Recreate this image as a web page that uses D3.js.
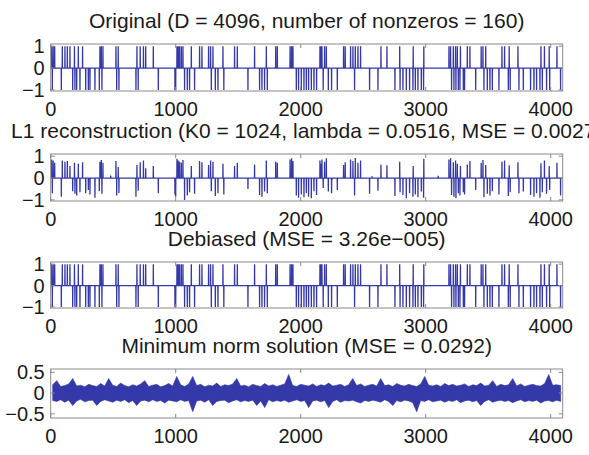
<!DOCTYPE html>
<html>
<head>
<meta charset="utf-8">
<script src="https://cdn.jsdelivr.net/npm/d3@7"></script>
</head>
<body style="margin:0">
<script>
const W = 589, H = 455;
const N = 4096;
const xTicks = [0, 1000, 2000, 3000, 4000];

const posIdx = [8, 20, 32, 93, 114, 133, 154, 190, 221, 255, 394, 405, 418, 522, 540, 690, 716, 742, 760, 821,
  1010, 1020, 1031, 1045, 1058, 1125, 1191, 1210, 1263, 1279, 1298, 1378, 1471, 1493, 1631, 1725, 1800, 1813, 1915, 1927, 1938,
  2154, 2162, 2170, 2191, 2205, 2343, 2356, 2399, 2418, 2437, 2458, 2479, 2642, 2690, 2792, 2900, 2985,
  3186, 3199, 3221, 3239, 3253, 3278, 3333, 3354, 3444, 3458, 3480, 3610, 3631, 3668, 3738, 3922, 3950, 3988, 4050]
const negIdx = [13, 85, 176, 194, 208, 234, 280, 301, 314, 354, 389, 410, 528, 546, 682, 700, 861, 994, 1000,
  1071, 1093, 1111, 1151, 1285, 1317, 1338, 1385, 1578, 1671, 1690, 1711, 1733, 1965, 1983,
  2005, 2026, 2045, 2063, 2085, 2106, 2127, 2180, 2221, 2247, 2293, 2431, 2551, 2618, 2754, 2795, 2818, 2845, 2871, 2898, 2917, 2938, 2965, 2983,
  3207, 3226, 3242, 3261, 3274, 3301, 3311, 3400, 3466, 3493, 3514, 3533, 3586, 3661, 3676, 3746, 3781, 3839, 3866, 3887, 3914, 3933, 3967, 3992, 4079]

// L1 reconstruction magnitudes (shrunk), same order as above
const l1PosMag = [0.85,0.80,0.70,0.80,0.75,0.78,0.55,0.70,0.65,0.72,0.75,0.82,0.70,0.78,0.50,0.60,0.72,0.80,0.45,0.55,
  0.88,0.80,0.75,0.70,0.82,0.55,0.78,0.72,0.60,0.80,0.74,0.65,0.55,0.70,0.62,0.80,0.75,0.70,0.85,0.90,0.78,
  0.80,0.65,0.85,0.75,0.90,0.60,0.72,0.85,0.78,0.92,0.70,0.80,0.62,0.58,0.75,0.55,0.88,
  0.85,0.90,0.72,0.80,0.65,0.55,0.62,0.78,0.70,0.82,0.60,0.75,0.80,0.58,0.72,0.68,0.80,0.55,0.70]
const l1NegMag = [0.70,0.85,0.60,0.72,0.80,0.65,0.70,0.55,0.75,0.90,0.60,0.72,0.80,0.68,0.85,0.58,0.70,0.75,0.85,
  1.00,0.80,0.65,0.72,0.60,0.82,0.70,0.75,0.50,0.78,0.85,0.62,0.70,0.80,0.90,
  0.75,0.88,0.70,0.85,0.92,0.60,0.78,0.45,0.62,0.70,0.55,0.80,0.72,0.58,0.82,0.65,0.78,0.92,0.70,0.85,0.75,0.88,0.62,0.90,
  0.78,0.85,0.92,0.70,0.80,0.65,0.75,0.55,0.88,0.72,0.80,0.60,0.75,0.82,0.65,0.70,0.62,0.78,0.85,0.70,0.90,0.65,0.72,0.55,0.80]
const l1ExtraIdx = [480, 2250, 2570, 3100]
const l1ExtraVal = [0.12, -0.10, 0.08, 0.10]

// minimum norm solution: upper / lower envelope per 32-sample bin
const mnHi = [0.20,0.30,0.16,0.18,0.22,0.35,0.17,0.19,0.15,0.21,0.18,0.16,0.23,0.17,0.35,0.19,
  0.16,0.24,0.18,0.15,0.20,0.17,0.22,0.30,0.16,0.19,0.21,0.15,0.18,0.23,0.17,0.40,
  0.20,0.16,0.22,0.40,0.18,0.21,0.15,0.19,0.17,0.24,0.16,0.20,0.18,0.22,0.35,0.17,
  0.19,0.15,0.21,0.18,0.16,0.23,0.17,0.20,0.16,0.19,0.22,0.45,0.18,0.16,0.21,0.19,
  0.17,0.22,0.16,0.20,0.18,0.24,0.17,0.19,0.21,0.16,0.20,0.35,0.18,0.22,0.16,0.19,
  0.21,0.17,0.35,0.18,0.20,0.16,0.23,0.19,0.17,0.21,0.18,0.16,0.22,0.40,0.19,0.17,
  0.20,0.16,0.23,0.18,0.21,0.17,0.19,0.22,0.16,0.20,0.18,0.24,0.17,0.19,0.30,0.16,
  0.21,0.18,0.20,0.35,0.17,0.22,0.16,0.19,0.21,0.18,0.17,0.23,0.45,0.19,0.20,0.18]
const mnLo = [-0.18,-0.20,-0.16,-0.22,-0.17,-0.30,-0.19,-0.15,-0.21,-0.18,-0.17,-0.30,-0.20,-0.16,-0.19,-0.22,
  -0.17,-0.20,-0.16,-0.23,-0.18,-0.30,-0.19,-0.17,-0.21,-0.16,-0.20,-0.18,-0.24,-0.17,-0.19,-0.21,
  -0.16,-0.20,-0.18,-0.45,-0.19,-0.17,-0.22,-0.16,-0.30,-0.20,-0.18,-0.17,-0.23,-0.19,-0.16,-0.21,
  -0.18,-0.20,-0.17,-0.30,-0.19,-0.35,-0.16,-0.21,-0.18,-0.20,-0.17,-0.22,-0.19,-0.16,-0.20,-0.18,
  -0.35,-0.19,-0.17,-0.21,-0.18,-0.35,-0.20,-0.16,-0.22,-0.18,-0.19,-0.17,-0.21,-0.24,-0.18,-0.20,
  -0.17,-0.19,-0.22,-0.16,-0.20,-0.30,-0.18,-0.21,-0.17,-0.19,-0.23,-0.45,-0.18,-0.20,-0.16,-0.21,
  -0.19,-0.17,-0.22,-0.18,-0.20,-0.16,-0.23,-0.19,-0.17,-0.21,-0.18,-0.30,-0.20,-0.16,-0.22,-0.19,
  -0.17,-0.20,-0.18,-0.23,-0.19,-0.16,-0.21,-0.18,-0.20,-0.17,-0.24,-0.19,-0.18,-0.21,-0.17,-0.20]

const titles = [
  "Original (D = 4096, number of nonzeros = 160)",
  "L1 reconstruction (K0 = 1024, lambda = 0.0516, MSE = 0.0027)",
  "Debiased (MSE = 3.26e\u2212005)",
  "Minimum norm solution (MSE = 0.0292)"
]

// build the sample arrays
function sparse(pos, neg, posVal, negVal) {
  const a = new Array(N).fill(0)
  pos.forEach((p, i) => a[p] = posVal ? posVal[i] : 1)
  neg.forEach((p, i) => a[p] = negVal ? -negVal[i] : -1)
  return a
}
const original = sparse(posIdx, negIdx)
const l1 = sparse(posIdx, negIdx, l1PosMag, l1NegMag)
l1ExtraIdx.forEach((p, i) => l1[p] = l1ExtraVal[i])
const debiased = sparse(posIdx, negIdx)
const minNorm = mnHi.map((h, i) => ({idx: i * 32 + 16, hi: h, lo: mnLo[i]}))

const panels = [
  {title: titles[0], top: 44, bottom: 91, yDomain: [-1.05, 1.1], yTicks: [-1, 0, 1], data: original.map((v, i) => [i, v])},
  {title: titles[1], top: 154, bottom: 201, yDomain: [-1.05, 1.1], yTicks: [-1, 0, 1], data: l1.map((v, i) => [i, v])},
  {title: titles[2], top: 262, bottom: 308, yDomain: [-1.05, 1.1], yTicks: [-1, 0, 1], data: debiased.map((v, i) => [i, v])},
  {title: titles[3], top: 369, bottom: 418, yDomain: [-0.6, 0.58], yTicks: [-0.5, 0, 0.5], band: minNorm}
]

const left = 50.7, right = 562.7;
const lineColor = '#3538a8';
const boxColor = '#8a8a8a';

const svg = d3.select('body').append('svg')
  .attr('width', W).attr('height', H);

svg.append('rect').attr('width', W).attr('height', H).attr('fill', '#fff');

const x = d3.scaleLinear().domain([0, N]).range([left, right]);
const fmt = d => String(d).replace('-', '\u2212');

function styleText(sel, size) {
  sel.style('font-family', 'sans-serif').style('font-size', size + 'px').style('fill', '#1a1a1a');
}

panels.forEach(p => {
  const y = d3.scaleLinear().domain(p.yDomain).range([p.bottom, p.top]);

  const clipId = 'clip' + p.top;
  svg.append('clipPath').attr('id', clipId)
    .append('rect').attr('x', left).attr('y', p.top).attr('width', right - left).attr('height', p.bottom - p.top);

  if (p.data) {
    const line = d3.line().x(d => x(d[0])).y(d => y(d[1]));
    svg.append('path')
      .datum(p.data)
      .attr('clip-path', `url(#${clipId})`)
      .attr('fill', 'none')
      .attr('stroke', lineColor)
      .attr('stroke-width', 1.3)
      .attr('d', line);
  } else {
    const area = d3.area().x(d => x(d.idx)).y0(d => y(d.lo)).y1(d => y(d.hi));
    svg.append('path')
      .datum(p.band)
      .attr('clip-path', `url(#${clipId})`)
      .attr('fill', lineColor)
      .attr('stroke', lineColor)
      .attr('stroke-width', 0.6)
      .attr('d', area);
  }

  // box
  svg.append('rect')
    .attr('x', left).attr('y', p.top)
    .attr('width', right - left).attr('height', p.bottom - p.top)
    .attr('fill', 'none').attr('stroke', boxColor).attr('stroke-width', 1);

  // inward ticks
  const tl = 4;
  const ticks = [];
  xTicks.forEach(t => {
    ticks.push([x(t), p.bottom, x(t), p.bottom - tl]);
    ticks.push([x(t), p.top, x(t), p.top + tl]);
  });
  p.yTicks.forEach(t => {
    ticks.push([left, y(t), left + tl, y(t)]);
    ticks.push([right, y(t), right - tl, y(t)]);
  });
  svg.append('g').selectAll('line').data(ticks).join('line')
    .attr('x1', d => d[0]).attr('y1', d => d[1])
    .attr('x2', d => d[2]).attr('y2', d => d[3])
    .attr('stroke', boxColor);
});

// texts last
panels.forEach(p => {
  const y = d3.scaleLinear().domain(p.yDomain).range([p.bottom, p.top]);
  svg.append('text')
    .attr('x', (left + right) / 2)
    .attr('y', p.top - 16)
    .attr('text-anchor', 'middle')
    .call(styleText, 21)
    .text(p.title);
  svg.append('g').selectAll('text').data(xTicks).join('text')
    .attr('x', d => x(d)).attr('y', p.bottom + 25)
    .attr('text-anchor', 'middle')
    .call(styleText, 20)
    .text(d => d);
  svg.append('g').selectAll('text').data(p.yTicks).join('text')
    .attr('x', left - 6).attr('y', d => y(d))
    .attr('dy', '0.35em')
    .attr('text-anchor', 'end')
    .call(styleText, 20)
    .text(fmt);
});
</script>
</body>
</html>
